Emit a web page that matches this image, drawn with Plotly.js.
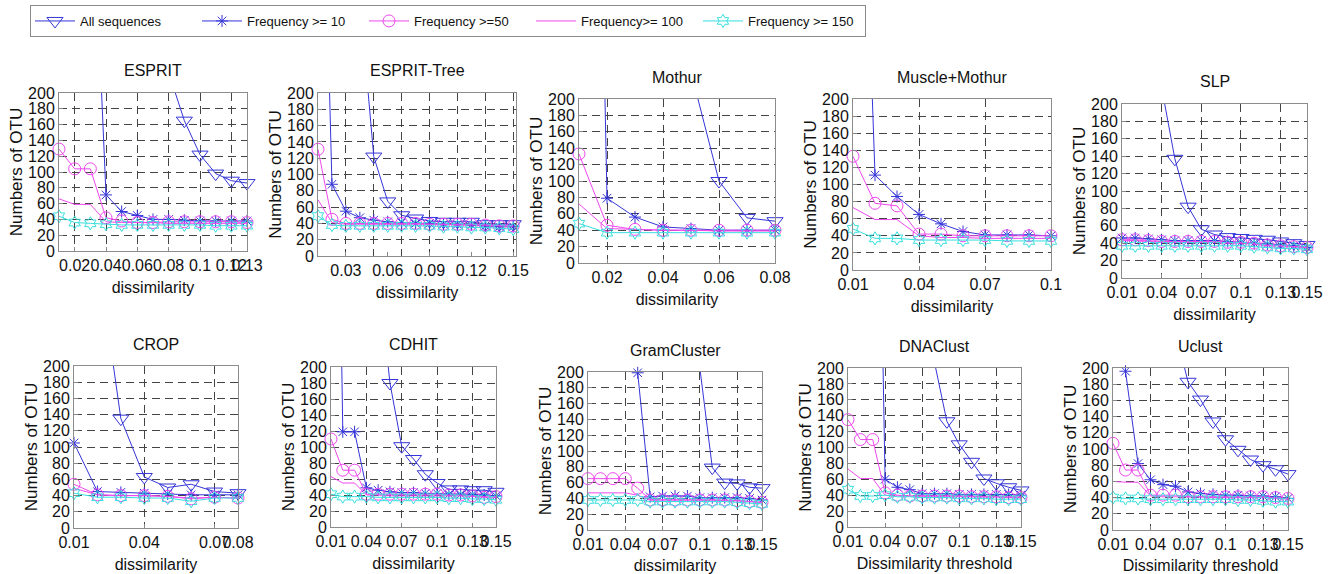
<!DOCTYPE html>
<html><head><meta charset="utf-8">
<script src="https://cdn.plot.ly/plotly-3.0.1.min.js"></script>
<style>html,body{margin:0;padding:0;background:#fff}#chart{width:1335px;height:574px}</style>
</head><body><div id="chart"></div>
<script>
// ---------- DATA ----------
const seriesNames = ['All sequences', 'Frequency >= 10', 'Frequency >=50', 'Frequency>= 100', 'Frequency >= 150'];
const methodNames = ['ESPRIT', 'ESPRIT-Tree', 'Mothur', 'Muscle+Mothur', 'SLP', 'CROP', 'CDHIT', 'GramCluster', 'DNAClust', 'Uclust'];
const xTitles = ['dissimilarity', 'dissimilarity', 'dissimilarity', 'dissimilarity', 'dissimilarity',
                 'dissimilarity', 'dissimilarity', 'dissimilarity', 'Dissimilarity threshold', 'Dissimilarity threshold'];
const yTitle = 'Numbers of OTU';

const x8  = [0.01, 0.02, 0.03, 0.04, 0.05, 0.06, 0.07, 0.08];
const x10 = [0.01, 0.02, 0.03, 0.04, 0.05, 0.06, 0.07, 0.08, 0.09, 0.10];
const x13 = [0.01, 0.02, 0.03, 0.04, 0.05, 0.06, 0.07, 0.08, 0.09, 0.10, 0.11, 0.12, 0.13];
const x15 = [0.01, 0.02, 0.03, 0.04, 0.05, 0.06, 0.07, 0.08, 0.09, 0.10, 0.11, 0.12, 0.13, 0.14, 0.15];

// ESPRIT
const espritAll  = [null, null, null, null, null, null, null, 226, 165, 122, 98, 89, 86];
const espritF10  = [null, null, 530, 71, 50, 45, 40, 40, 39, 38, 38, 38, 38];
const espritF50  = [129, 104, 104, 42, 38, 36, 36, 37, 37, 37, 37, 37, 36];
const espritF100 = [66, 59, 59, 37, 36, 36, 36, 35, 35, 35, 35, 35, 35];
const espritF150 = [44, 36, 35, 34, 33, 33, 33, 33, 33, 33, 32, 32, 32];
// ESPRIT-Tree
const treeAll  = [null, null, null, 317, 122, 67, 50, 46, 43, 42, 42, 42, 39, 39, 39];
const treeF10  = [750, 88, 55, 47, 44, 42, 41, 40, 40, 39, 39, 38, 37, 36, 36];
const treeF50  = [131, 45, 40, 40, 40, 40, 40, 40, 39, 39, 39, 39, 38, 37, 37];
const treeF100 = [69, 41, 39, 39, 39, 39, 39, 39, 39, 39, 38, 38, 38, 37, 37];
const treeF150 = [49, 38, 37, 37, 37, 37, 37, 37, 37, 36, 36, 35, 35, 34, 33];
// Mothur
const mothurAll  = [null, null, null, null, 233, 100, 55, 51];
const mothurF10  = [1760, 79, 56, 44, 42, 40, 40, 40];
const mothurF50  = [133, 46, 41, 40, 40, 40, 40, 40];
const mothurF100 = [72, 42, 41, 40, 40, 39, 39, 39];
const mothurF150 = [48, 37, 37, 37, 37, 37, 37, 37];
// Muscle+Mothur (All sequences stays above the 200 limit: not visible)
const muscleAll  = [null, null, null, null, null, null, null, null, null, null];
const muscleF10  = [846, 111, 86, 65, 54, 45, 41, 41, 41, 40];
const muscleF50  = [133, 78, 75, 42, 42, 40, 40, 40, 40, 40];
const muscleF100 = [73, 59, 59, 40, 38, 38, 37, 37, 37, 37];
const muscleF150 = [48, 37, 37, 35, 35, 35, 35, 34, 34, 34];
// SLP
const slpAll  = [null, null, null, 219, 137, 82, 56, 50, 47, 46, 45, 44, 42, 40, 38];
const slpF10  = [46, 46, 45, 44, 43, 43, 43, 43, 42, 41, 40, 39, 38, 37, 35];
const slpF50  = [44, 44, 43, 42, 42, 42, 42, 42, 41, 41, 40, 38, 37, 36, 35];
const slpF100 = [43, 43, 42, 41, 41, 41, 41, 41, 40, 40, 39, 37, 37, 36, 35];
const slpF150 = [37, 37, 37, 37, 37, 37, 37, 37, 37, 37, 36, 35, 34, 34, 33];
// CROP
const cropAll  = [null, 340, 135, 63, 50, 54, 45, 43];
const cropF10  = [105, 45, 44, 43, 42, 41, 41, 41];
const cropF50  = [54, 41, 40, 40, 39, 36, 38, 37];
const cropF100 = [49, 41, 40, 40, 39, 37, 38, 37];
const cropF150 = [43, 38, 38, 37, 37, 33, 37, 37];
// CDHIT
const cdhitAll  = [null, null, null, null, 323, 180, 101, 85, 66, 55, 47, 47, 46, 46, 44];
const cdhitF10  = [1080, 119, 119, 49, 46, 44, 43, 43, 42, 42, 41, 41, 41, 40, 39];
const cdhitF50  = [110, 71, 71, 41, 41, 41, 41, 41, 41, 41, 40, 40, 39, 37, 38];
const cdhitF100 = [63, 55, 55, 40, 40, 39, 39, 39, 39, 39, 39, 39, 38, 38, 37];
const cdhitF150 = [41, 38, 38, 38, 37, 37, 37, 37, 37, 37, 36, 36, 35, 35, 34];
// GramCluster
const gramAll  = [null, null, null, null, null, null, null, null, null, 205, 79, 60, 59, 54, 53];
const gramF10  = [null, null, null, null, 199, 42, 43, 43, 43, 41, 41, 41, 41, 40, 38];
const gramF50  = [65, 65, 65, 65, 53, 38, 38, 38, 38, 38, 38, 38, 37, 36, 35];
const gramF100 = [47, 47, 47, 47, 44, 38, 38, 38, 38, 38, 38, 37, 37, 36, 35];
const gramF150 = [38, 38, 38, 38, 38, 36, 36, 36, 36, 36, 36, 36, 35, 34, 33];
// DNAClust
const dnaAll  = [null, null, null, null, null, null, null, 207, 133, 104, 82, 61, 55, 50, 46];
const dnaF10  = [null, null, 924, 60, 50, 47, 42, 42, 42, 41, 41, 41, 41, 41, 40];
const dnaF50  = [135, 110, 110, 43, 40, 39, 39, 39, 39, 39, 38, 38, 38, 37, 37];
const dnaF100 = [73, 61, 61, 40, 39, 39, 39, 39, 39, 39, 39, 38, 38, 38, 38];
const dnaF150 = [47, 39, 39, 40, 38, 38, 37, 37, 37, 36, 36, 36, 35, 35, 35];
// Uclust
const uclustAll  = [null, null, null, null, null, 245, 183, 161, 134, 112, 99, 87, 80, 75, 69];
const uclustF10  = [null, 196, 82, 62, 56, 54, 47, 45, 44, 43, 43, 42, 42, 41, 39];
const uclustF50  = [107, 74, 74, 43, 43, 43, 41, 41, 41, 41, 41, 41, 41, 40, 39];
const uclustF100 = [60, 59, 59, 42, 41, 41, 41, 41, 40, 40, 40, 40, 40, 39, 38];
const uclustF150 = [40, 39, 39, 38, 38, 38, 38, 38, 38, 38, 37, 37, 36, 35, 35];

// tick labels
const ticksEsprit = [0.02, 0.04, 0.06, 0.08, 0.1, 0.12, 0.13];
const ticksTree   = [0.03, 0.06, 0.09, 0.12, 0.15];
const ticksMothur = [0.02, 0.04, 0.06, 0.08];
const ticksMuscle = [0.01, 0.04, 0.07, 0.1];
const ticksCrop   = [0.01, 0.04, 0.07, 0.08];
const ticks15     = [0.01, 0.04, 0.07, 0.1, 0.13, 0.15];
const yTicks      = [0, 20, 40, 60, 80, 100, 120, 140, 160, 180, 200];

// ---------- ASSEMBLY ----------
const panels = [
  {x: x13, ys: [espritAll, espritF10, espritF50, espritF100, espritF150], ticks: ticksEsprit},
  {x: x15, ys: [treeAll, treeF10, treeF50, treeF100, treeF150], ticks: ticksTree},
  {x: x8,  ys: [mothurAll, mothurF10, mothurF50, mothurF100, mothurF150], ticks: ticksMothur},
  {x: x10, ys: [muscleAll, muscleF10, muscleF50, muscleF100, muscleF150], ticks: ticksMuscle},
  {x: x15, ys: [slpAll, slpF10, slpF50, slpF100, slpF150], ticks: ticks15},
  {x: x8,  ys: [cropAll, cropF10, cropF50, cropF100, cropF150], ticks: ticksCrop},
  {x: x15, ys: [cdhitAll, cdhitF10, cdhitF50, cdhitF100, cdhitF150], ticks: ticks15},
  {x: x15, ys: [gramAll, gramF10, gramF50, gramF100, gramF150], ticks: ticks15},
  {x: x15, ys: [dnaAll, dnaF10, dnaF50, dnaF100, dnaF150], ticks: ticks15},
  {x: x15, ys: [uclustAll, uclustF10, uclustF50, uclustF100, uclustF150], ticks: ticks15}
];

// layout geometry in pixels: [left, right], [top, bottom]
const W = 1335, H = 574;
const boxes = [
  [[59, 247], [93, 251]],
  [[318, 516], [93, 256]],
  [[579, 775], [99, 263]],
  [[853, 1051], [99, 270]],
  [[1122, 1307], [104, 278]],
  [[74, 238], [366, 528]],
  [[331, 496], [367, 527]],
  [[588, 762], [372, 530]],
  [[848, 1021], [368, 527]],
  [[1113, 1288], [368, 530]]
];
const xRanges = [[0.01, 0.13], [0.01, 0.152], [0.01, 0.08], [0.01, 0.1], [0.01, 0.15],
                 [0.01, 0.08], [0.01, 0.15], [0.01, 0.15], [0.01, 0.15], [0.01, 0.15]];

const BLUE = '#3535d8', MAG = '#ee48ee', CYAN = '#38dede';
const styles = [
  {color: BLUE, symbol: 'triangle-down-open', size: 14, mode: 'lines+markers'},
  {color: BLUE, symbol: 'asterisk-open', size: 10, mode: 'lines+markers'},
  {color: MAG,  symbol: 'circle-open', size: 12, mode: 'lines+markers'},
  {color: MAG,  symbol: 'circle', size: 6, mode: 'lines'},
  {color: CYAN, symbol: 'hexagram-open', size: 10, mode: 'lines+markers'}
];

const FONT = 'Liberation Sans, Arial, sans-serif';
const traces = [];
const layout = {
  width: W, height: H,
  margin: {l: 0, r: 0, t: 0, b: 0},
  paper_bgcolor: '#fff', plot_bgcolor: '#fff',
  font: {family: FONT, color: '#111', size: 16},
  showlegend: true,
  legend: {
    orientation: 'h', x: 30 / W, y: 1 - 5 / H, xanchor: 'left', yanchor: 'top',
    bordercolor: '#8a8a8a', borderwidth: 1, bgcolor: '#fff',
    font: {family: FONT, size: 13, color: '#111'},
    entrywidth: 112, entrywidthmode: 'pixels', itemwidth: 40
  },
  annotations: []
};

panels.forEach((p, i) => {
  const n = i + 1;
  const xa = 'x' + (n === 1 ? '' : n), ya = 'y' + (n === 1 ? '' : n);
  p.ys.forEach((y, k) => {
    const s = styles[k];
    traces.push({
      type: 'scatter', x: p.x, y: y, name: seriesNames[k],
      xaxis: xa, yaxis: ya, mode: s.mode, legendgroup: 's' + k, showlegend: i === 0,
      cliponaxis: false,
      line: {color: s.color, width: 1},
      marker: {symbol: s.symbol, size: s.size, color: s.color, line: {color: s.color, width: 1}},
      hoverinfo: 'x+y+name'
    });
  });
  const [[l, r], [t, b]] = boxes[i];
  const xKey = 'xaxis' + (n === 1 ? '' : n), yKey = 'yaxis' + (n === 1 ? '' : n);
  const xax = {
    domain: [l / W, r / W], anchor: ya, range: xRanges[i],
    tickmode: 'array', tickvals: p.ticks, ticktext: p.ticks.map(v => String(v)),
    tickangle: 0, ticks: 'inside', ticklen: 4, tickcolor: '#888',
    showline: true, mirror: true, linecolor: '#8c8c8c', linewidth: 1,
    showgrid: true, gridcolor: '#444', gridwidth: 1, griddash: '8px,5px', zeroline: false,
    tickfont: {family: FONT, size: 16, color: '#111'},
    title: {text: xTitles[i], font: {family: FONT, size: 16, color: '#111'}, standoff: 8},
    automargin: false, fixedrange: true
  };
  if (i === 1) {
    xax.showgrid = false;
    xax.minor = {tickvals: [0.03, 0.05, 0.07, 0.09, 0.11, 0.13, 0.15], showgrid: true,
                 gridcolor: '#444', gridwidth: 1, griddash: '8px,5px', ticks: ''};
  }
  layout[xKey] = xax;
  layout[yKey] = {
    domain: [1 - b / H, 1 - t / H], anchor: xa, range: [0, 200],
    tickmode: 'array', tickvals: yTicks, ticks: 'inside', ticklen: 4, tickcolor: '#888',
    showline: true, mirror: true, linecolor: '#8c8c8c', linewidth: 1,
    showgrid: true, gridcolor: '#444', gridwidth: 1, griddash: '8px,5px', zeroline: false,
    tickfont: {family: FONT, size: 16, color: '#111'},
    title: {text: yTitle, font: {family: FONT, size: 17, color: '#111'}, standoff: 1},
    automargin: false, fixedrange: true
  };
  layout.annotations.push({
    text: methodNames[i], xref: 'paper', yref: 'paper',
    x: ((l + r) / 2) / W, y: 1 - (t - 22) / H, xanchor: 'center', yanchor: 'middle',
    showarrow: false, font: {family: FONT, size: 16, color: '#111'}
  });
});

Plotly.newPlot('chart', traces, layout, {displayModeBar: false});
</script>
</body></html>
